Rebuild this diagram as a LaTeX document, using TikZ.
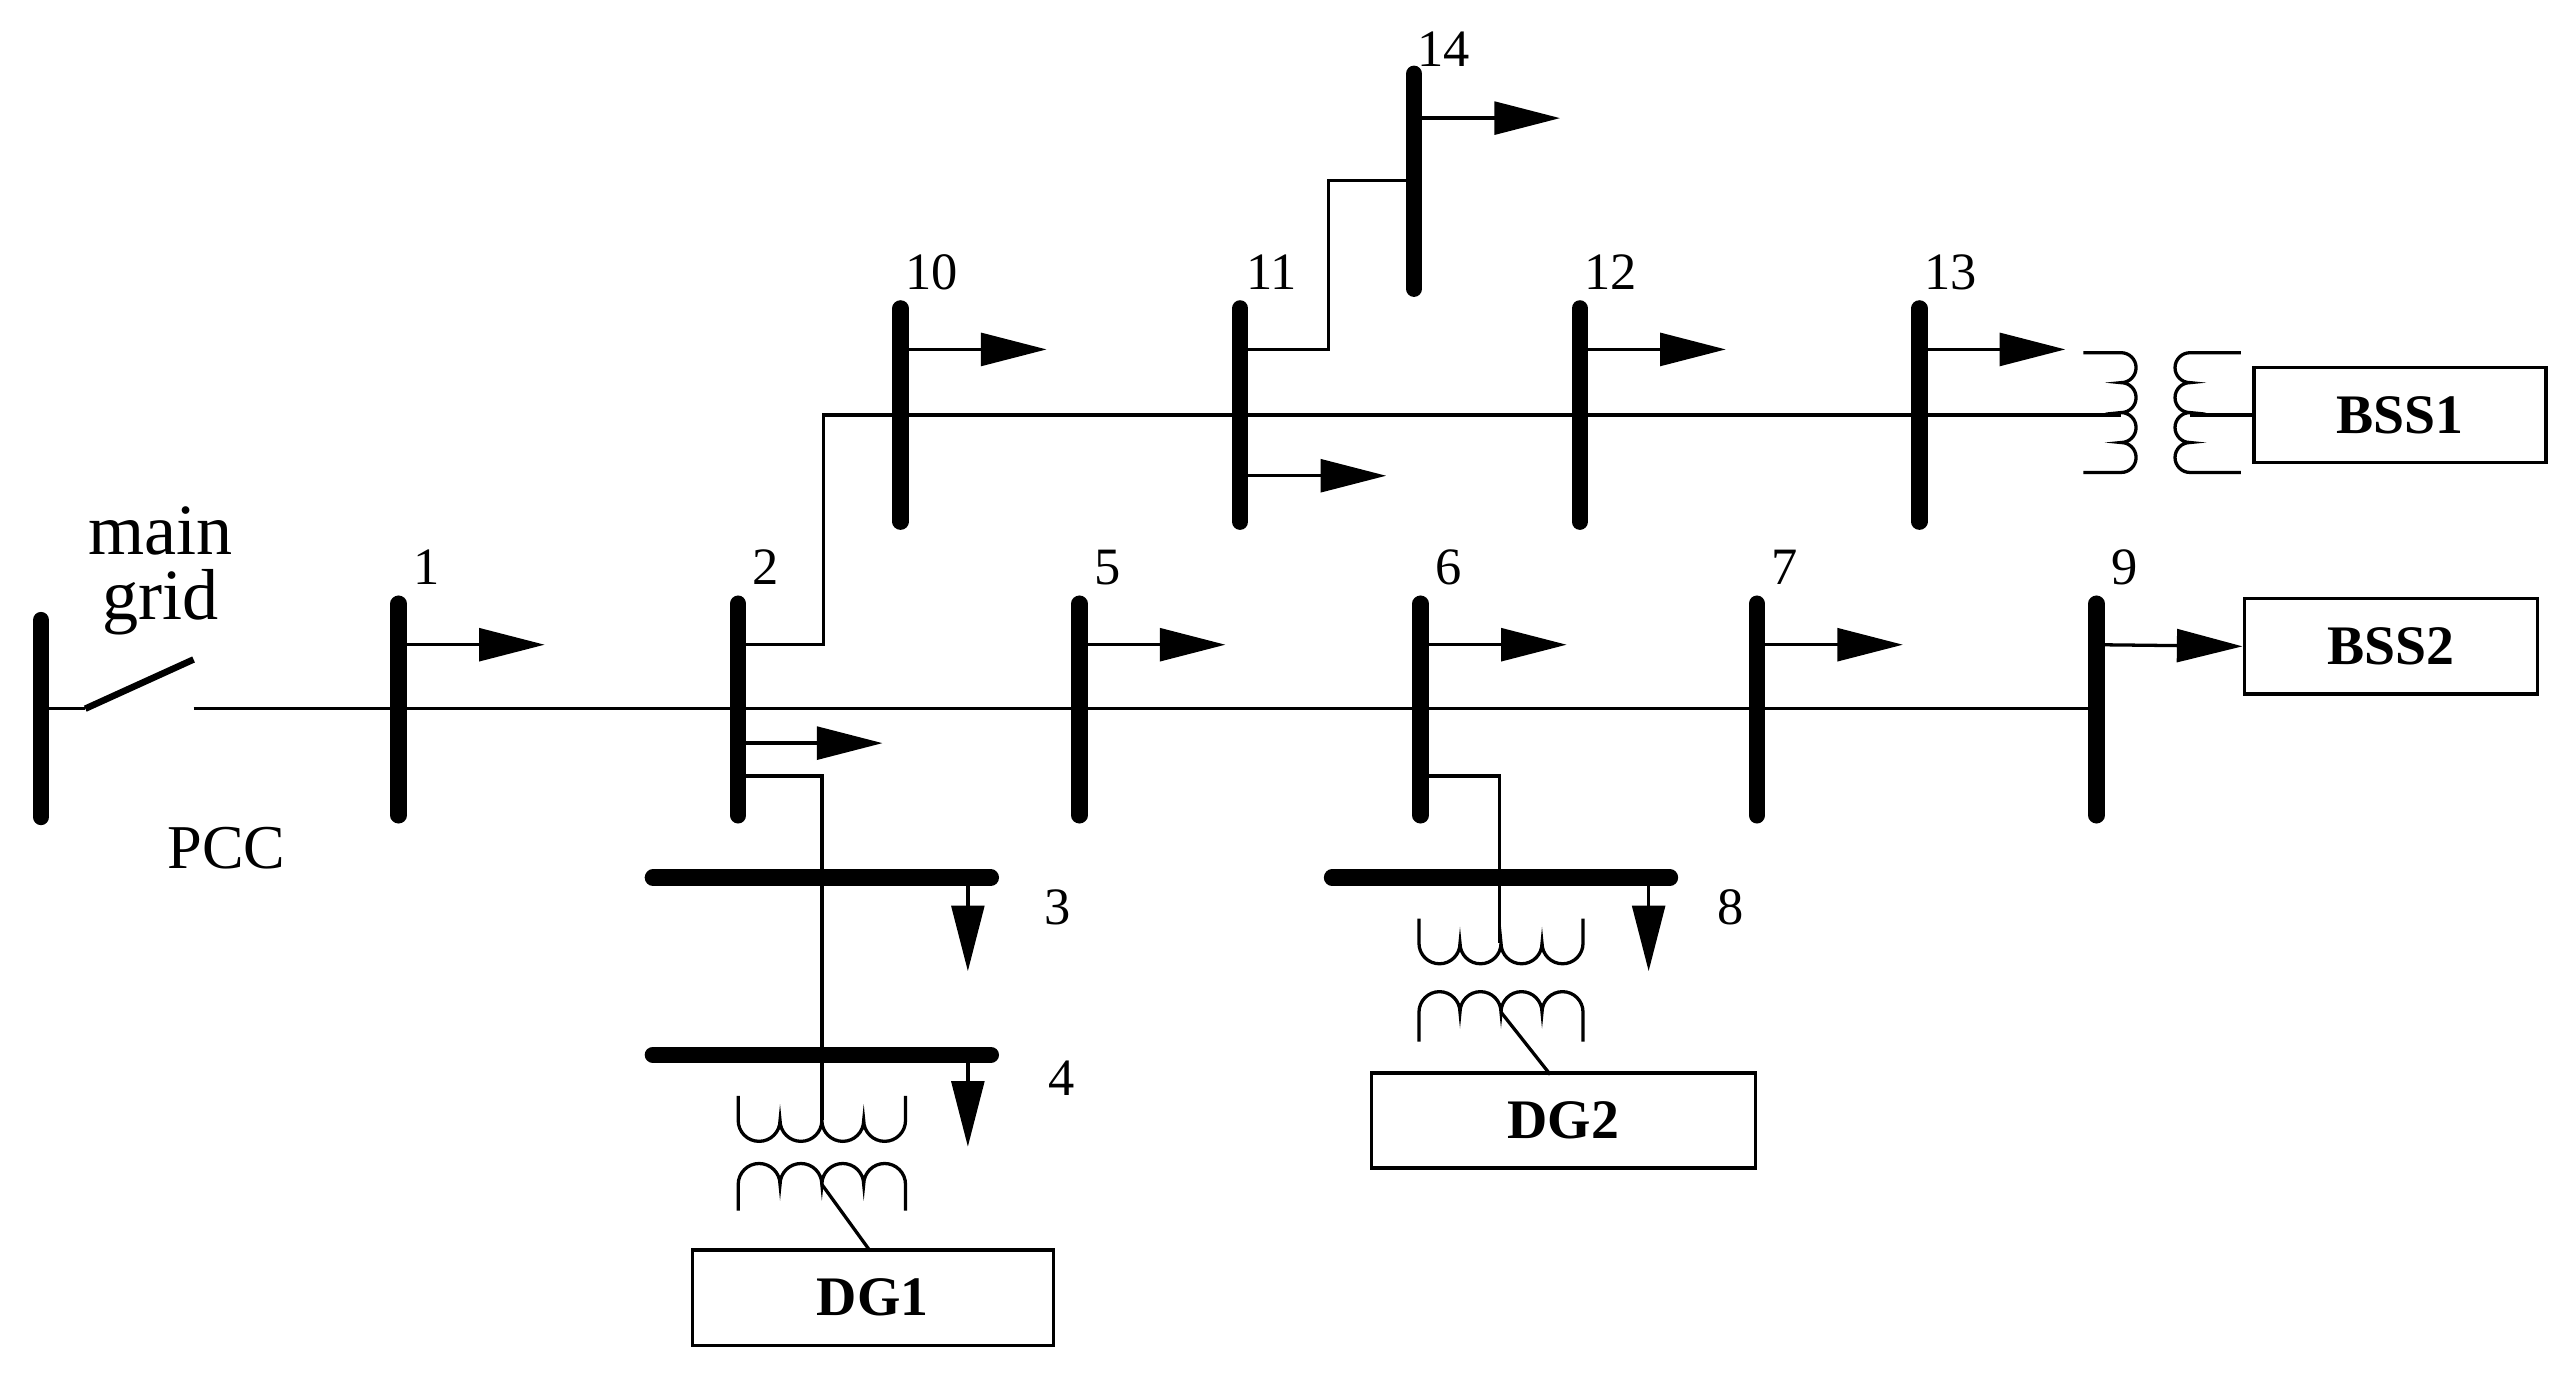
\documentclass[tikz,border=0pt]{standalone}
\usepackage{fontspec}
\setmainfont{Liberation Serif}
\usetikzlibrary{arrows.meta}
\begin{document}
\begin{tikzpicture}[x=0.5pt,y=-0.5pt,
  bus/.style={line width=5pt,line cap=round},
  ln/.style={line width=1pt},
  ld/.style={line width=1pt,-{Triangle[length=20pt,width=10pt]}},
  num/.style={font=\fontsize{16}{16}\selectfont,inner sep=0pt},
  box/.style={draw,line width=1pt,inner sep=0pt,font=\bfseries\fontsize{17}{17}\selectfont}]
\useasboundingbox (0,0) rectangle (1563,842);
% main grid
\coordinate (g1) at (25,378); \coordinate (g2) at (25,498);
\draw[bus] (g1) -- (g2);
\coordinate (sw1) at (52,432); \coordinate (sw2) at (118,402);
\draw[ln] (25,432) -- (sw1); \draw[line width=2pt] (sw1) -- (sw2);
\node[font=\fontsize{22}{22}\selectfont,align=center,inner sep=0pt] (mg) at (98,348) {main\\[-2pt]grid};
\node[font=\fontsize{19}{19}\selectfont,inner sep=0pt] (pcc) at (138,517) {PCC};
\coordinate (m0) at (118,432); \coordinate (m9) at (1278,432);
\draw[ln] (m0) -- (m9);
% lower buses
\foreach \n/\x in {1/243,2/450,5/658,6/866,7/1071,9/1278}{
  \coordinate (b\n t) at (\x,368); \coordinate (b\n b) at (\x,497);
  \draw[bus] (b\n t) -- (b\n b);
  \node[num] (l\n) at (\x+17,346) {\n};
}
\foreach \x in {243,658,866,1071}{ \draw[ld] (\x,393) -- (\x+89,393); }
\draw[ld] (450,453) -- (538,453);
% upper buses
\foreach \n/\x in {10/549,11/756,12/963,13/1170}{
  \coordinate (b\n t) at (\x,188); \coordinate (b\n b) at (\x,318);
  \draw[bus] (b\n t) -- (b\n b);
  \node[num] (l\n) at (\x+19,166) {\n};
}
\foreach \x in {549,963,1170}{ \draw[ld] (\x,213) -- (\x+89,213); }
\draw[ld] (756,290) -- (845,290);
\coordinate (b14t) at (862,45); \coordinate (b14b) at (862,176);
\draw[bus] (b14t) -- (b14b);
\node[num] (l14) at (880,30) {14};
\draw[ld] (862,72) -- (951,72);
\draw[ln] (756,213) -- (810,213) -- (810,110) -- (862,110);
\draw[ln] (450,393) -- (502,393) -- (502,253) -- (1293,253);
% BSS1 transformer
\draw[ln] (1270,215) -- (1293,215)
  arc[start angle=-90,end angle=90,radius=9.125] arc[start angle=-90,end angle=90,radius=9.125]
  arc[start angle=-90,end angle=90,radius=9.125] arc[start angle=-90,end angle=90,radius=9.125]
  -- (1270,288);
\draw[ln] (1366,215) -- (1335,215)
  arc[start angle=270,end angle=90,radius=9.125] arc[start angle=270,end angle=90,radius=9.125]
  arc[start angle=270,end angle=90,radius=9.125] arc[start angle=270,end angle=90,radius=9.125]
  -- (1366,288);
\node[box,anchor=west,minimum width=89pt,minimum height=29pt] (bss1) at (1373,253) {BSS1};
\draw[ln] (1335,253) -- (bss1.west);
% BSS2
\node[box,anchor=west,minimum width=89.5pt,minimum height=29pt] (bss2) at (1367,394) {BSS2};
\draw[ld] (1278,393) -- (bss2.west);
% buses 3, 4
\coordinate (b3l) at (398,535); \coordinate (b3r) at (604,535);
\coordinate (b4l) at (398,643); \coordinate (b4r) at (604,643);
\draw[bus] (b3l) -- (b3r); \draw[bus] (b4l) -- (b4r);
\draw[ld] (590,535) -- (590,592); \draw[ld] (590,643) -- (590,699);
\node[num] (l3) at (645,553) {3}; \node[num] (l4) at (647,657) {4};
\draw[ln] (450,473) -- (501,473) -- (501,683);
% DG1 transformer
\draw[ln] (450,668) -- (450,683)
  arc[start angle=180,end angle=0,radius=12.75] arc[start angle=180,end angle=0,radius=12.75]
  arc[start angle=180,end angle=0,radius=12.75] arc[start angle=180,end angle=0,radius=12.75]
  -- (552,668);
\draw[ln] (450,738) -- (450,722)
  arc[start angle=180,end angle=360,radius=12.75] arc[start angle=180,end angle=360,radius=12.75]
  arc[start angle=180,end angle=360,radius=12.75] arc[start angle=180,end angle=360,radius=12.75]
  -- (552,738);
\node[box,minimum width=110pt,minimum height=29pt] (dg1) at (532,791) {DG1};
\coordinate (dg1c) at (530,762);
\draw[ln] (501,722) -- (dg1c);
% bus 8
\coordinate (b8l) at (812,535); \coordinate (b8r) at (1018,535);
\draw[bus] (b8l) -- (b8r);
\draw[ld] (1005,535) -- (1005,592);
\node[num] (l8) at (1055,553) {8};
\draw[ln] (866,473) -- (914,473) -- (914,575);
\draw[ln] (865,560) -- (865,575)
  arc[start angle=180,end angle=0,radius=12.5] arc[start angle=180,end angle=0,radius=12.5]
  arc[start angle=180,end angle=0,radius=12.5] arc[start angle=180,end angle=0,radius=12.5]
  -- (965,560);
\draw[ln] (865,635) -- (865,617)
  arc[start angle=180,end angle=360,radius=12.5] arc[start angle=180,end angle=360,radius=12.5]
  arc[start angle=180,end angle=360,radius=12.5] arc[start angle=180,end angle=360,radius=12.5]
  -- (965,635);
\node[box,minimum width=117pt,minimum height=29pt] (dg2) at (953,683) {DG2};
\coordinate (dg2c) at (945,655);
\draw[ln] (915,617) -- (dg2c);
\end{tikzpicture}
\end{document}
